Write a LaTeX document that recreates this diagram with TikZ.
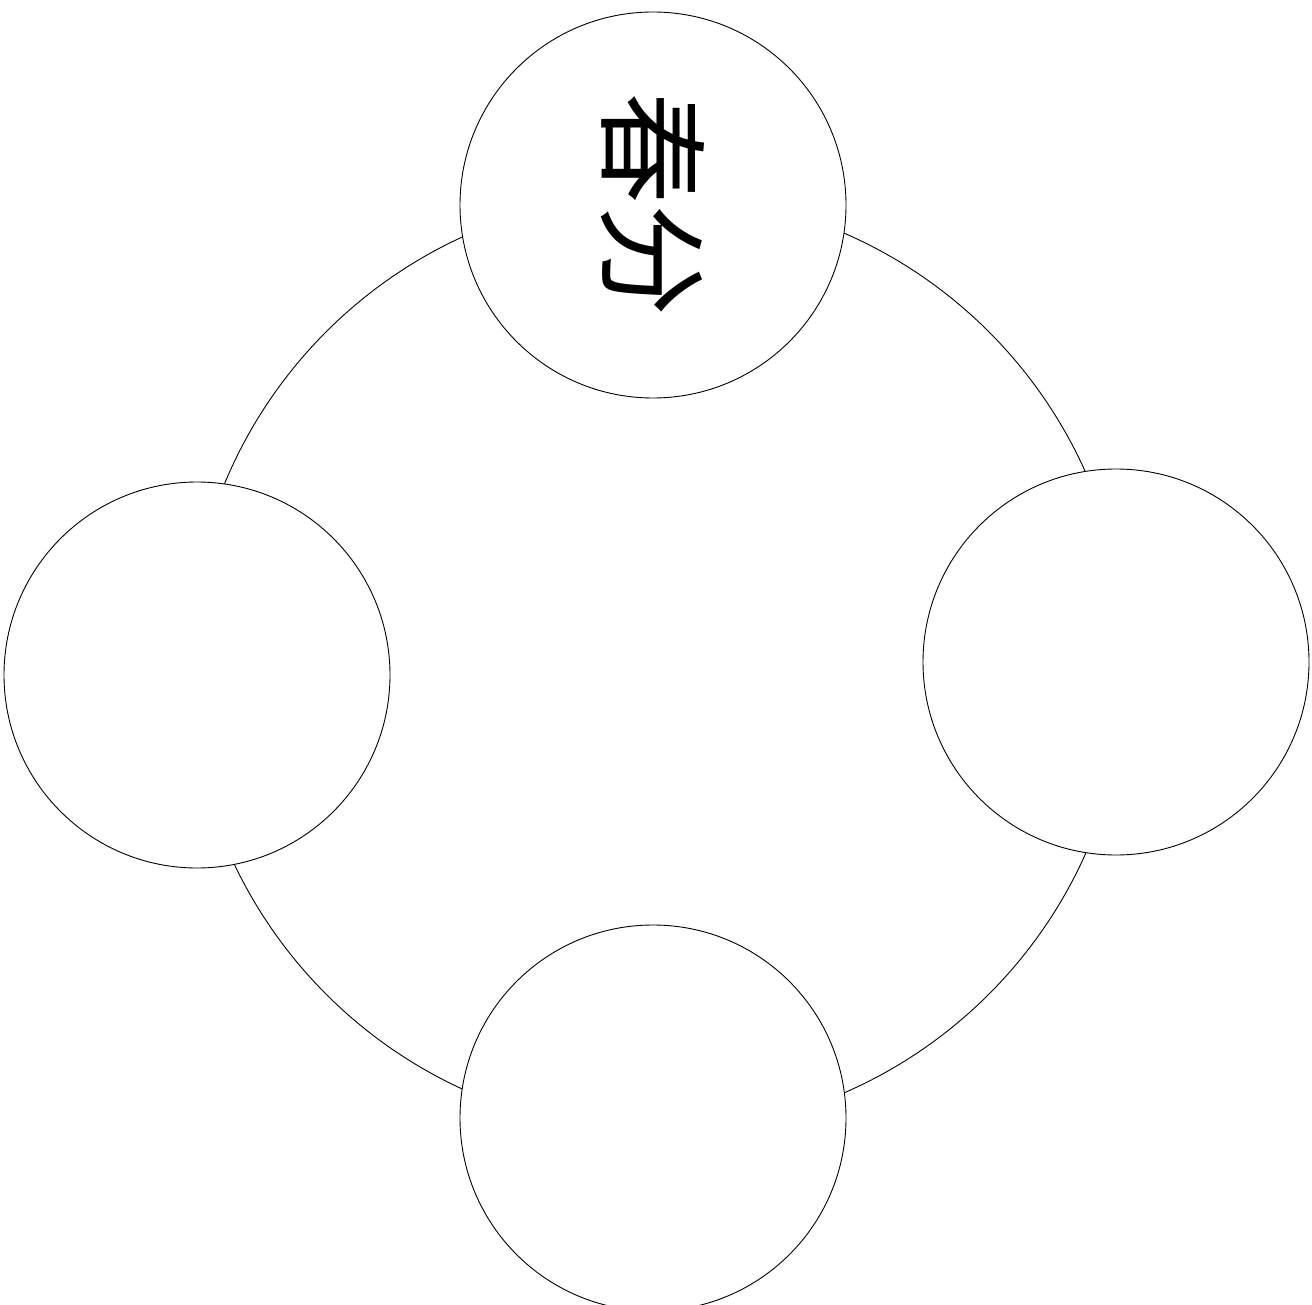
\documentclass[tikz,border=0pt]{standalone}
\usepackage{fontspec}
\newfontfamily\cjk{Noto Sans CJK SC}
\begin{document}
\begin{tikzpicture}[x=1pt,y=-1pt,
  ring/.style={circle,draw=black,line width=0.9pt,inner sep=0pt,minimum size=937pt},
  season/.style={circle,draw=black,fill=white,line width=0.9pt,inner sep=0pt,minimum size=386pt}]
\useasboundingbox (0,0) rectangle (1312,1305);
\clip (0,0) rectangle (1312,1305);
\node[ring] (big) at (657.5,663) {};
\node[season,rotate=-90,font={\cjk\fontsize{112pt}{112pt}\selectfont}] (top) at (653,205) {春分};
\node[season] (left) at (197,675) {};
\node[season] (right) at (1116,662) {};
\node[season] (bottom) at (653,1118) {};
\end{tikzpicture}
\end{document}
